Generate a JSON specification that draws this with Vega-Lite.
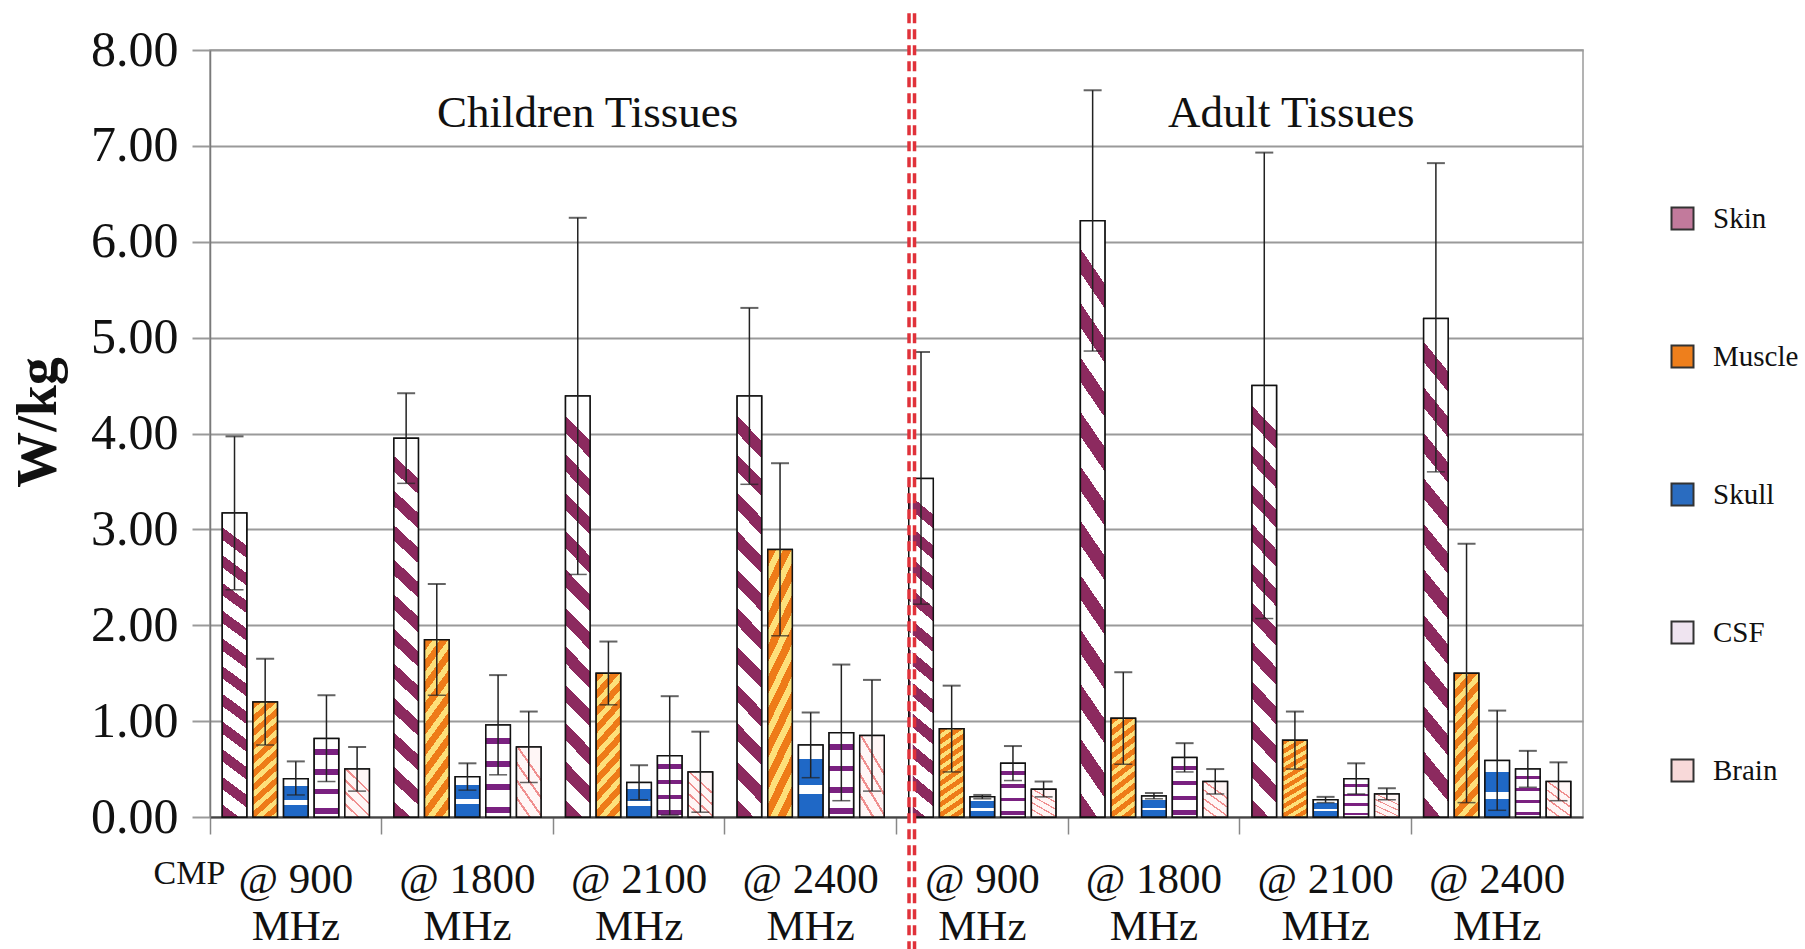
{
  "$schema": "https://vega.github.io/schema/vega-lite/v6.json",
  "width": 1373,
  "height": 767,
  "autosize": {"type": "none"},
  "padding": {"left": 210, "top": 50, "right": 222, "bottom": 132},
  "background": "white",
  "datasets": {
    "sar": [
      {"grp": "C900", "tissue": "Skin", "value": 3.17, "lo": 2.37, "hi": 3.97},
      {"grp": "C900", "tissue": "Muscle", "value": 1.2, "lo": 0.75, "hi": 1.65},
      {"grp": "C900", "tissue": "Skull", "value": 0.4, "lo": 0.23, "hi": 0.58},
      {"grp": "C900", "tissue": "CSF", "value": 0.82, "lo": 0.37, "hi": 1.27},
      {"grp": "C900", "tissue": "Brain", "value": 0.5, "lo": 0.27, "hi": 0.73},
      {"grp": "C1800", "tissue": "Skin", "value": 3.95, "lo": 3.48, "hi": 4.42},
      {"grp": "C1800", "tissue": "Muscle", "value": 1.85, "lo": 1.27, "hi": 2.43},
      {"grp": "C1800", "tissue": "Skull", "value": 0.42, "lo": 0.28, "hi": 0.56},
      {"grp": "C1800", "tissue": "CSF", "value": 0.96, "lo": 0.44, "hi": 1.48},
      {"grp": "C1800", "tissue": "Brain", "value": 0.73, "lo": 0.36, "hi": 1.1},
      {"grp": "C2100", "tissue": "Skin", "value": 4.39, "lo": 2.53, "hi": 6.25},
      {"grp": "C2100", "tissue": "Muscle", "value": 1.5, "lo": 1.17, "hi": 1.83},
      {"grp": "C2100", "tissue": "Skull", "value": 0.36, "lo": 0.18, "hi": 0.54},
      {"grp": "C2100", "tissue": "CSF", "value": 0.64, "lo": 0.02, "hi": 1.26},
      {"grp": "C2100", "tissue": "Brain", "value": 0.47, "lo": 0.05, "hi": 0.89},
      {"grp": "C2400", "tissue": "Skin", "value": 4.39, "lo": 3.47, "hi": 5.31},
      {"grp": "C2400", "tissue": "Muscle", "value": 2.79, "lo": 1.89, "hi": 3.69},
      {"grp": "C2400", "tissue": "Skull", "value": 0.75, "lo": 0.41, "hi": 1.09},
      {"grp": "C2400", "tissue": "CSF", "value": 0.88, "lo": 0.17, "hi": 1.59},
      {"grp": "C2400", "tissue": "Brain", "value": 0.85, "lo": 0.27, "hi": 1.43},
      {"grp": "A900", "tissue": "Skin", "value": 3.53, "lo": 2.22, "hi": 4.85},
      {"grp": "A900", "tissue": "Muscle", "value": 0.92, "lo": 0.47, "hi": 1.37},
      {"grp": "A900", "tissue": "Skull", "value": 0.21, "lo": 0.19, "hi": 0.23},
      {"grp": "A900", "tissue": "CSF", "value": 0.56, "lo": 0.38, "hi": 0.74},
      {"grp": "A900", "tissue": "Brain", "value": 0.29, "lo": 0.21, "hi": 0.37},
      {"grp": "A1800", "tissue": "Skin", "value": 6.22, "lo": 4.86, "hi": 7.58},
      {"grp": "A1800", "tissue": "Muscle", "value": 1.03, "lo": 0.55, "hi": 1.51},
      {"grp": "A1800", "tissue": "Skull", "value": 0.22, "lo": 0.19, "hi": 0.25},
      {"grp": "A1800", "tissue": "CSF", "value": 0.62, "lo": 0.47, "hi": 0.77},
      {"grp": "A1800", "tissue": "Brain", "value": 0.37, "lo": 0.24, "hi": 0.5},
      {"grp": "A2100", "tissue": "Skin", "value": 4.5, "lo": 2.07, "hi": 6.93},
      {"grp": "A2100", "tissue": "Muscle", "value": 0.8, "lo": 0.5, "hi": 1.1},
      {"grp": "A2100", "tissue": "Skull", "value": 0.18, "lo": 0.15, "hi": 0.21},
      {"grp": "A2100", "tissue": "CSF", "value": 0.4, "lo": 0.24, "hi": 0.56},
      {"grp": "A2100", "tissue": "Brain", "value": 0.24, "lo": 0.18, "hi": 0.3},
      {"grp": "A2400", "tissue": "Skin", "value": 5.2, "lo": 3.6, "hi": 6.82},
      {"grp": "A2400", "tissue": "Muscle", "value": 1.5, "lo": 0.15, "hi": 2.85},
      {"grp": "A2400", "tissue": "Skull", "value": 0.59, "lo": 0.07, "hi": 1.11},
      {"grp": "A2400", "tissue": "CSF", "value": 0.5, "lo": 0.31, "hi": 0.69},
      {"grp": "A2400", "tissue": "Brain", "value": 0.37, "lo": 0.17, "hi": 0.57}
    ]
  },
  "config": {
    "font": "Liberation Serif",
    "view": {"stroke": "#9a9a9a", "strokeWidth": 1.5}
  },
  "layer": [
    {
      "data": {"name": "sar"},
      "mark": {"type": "bar", "stroke": "#111111", "strokeWidth": 1.5},
      "encoding": {
        "x": {"field": "grp", "type": "nominal", "title": "CMP", "sort": null,
              "scale": {"domain": ["C900", "C1800", "C2100", "C2400", "A900", "A1800", "A2100", "A2400"], "paddingInner": 0, "paddingOuter": 0},
              "axis": {"labelExpr": "['@ ' + slice(datum.value, 1), 'MHz']", "grid": false, "bandPosition": 0,
                       "labelAngle": 0, "labelFont": "Liberation Serif", "labelFontSize": 43, "labelColor": "#111111", "labelLineHeight": 47,
                       "labelPadding": 24, "tickSize": 17, "tickColor": "#888888", "tickWidth": 1.5, "domainColor": "#444444", "domainWidth": 2,
                       "titleFont": "Liberation Serif", "titleFontSize": 34, "titleFontWeight": "normal", "titleColor": "#111111",
                       "titleX": -21, "titleY": 56, "titleAlign": "center", "titleBaseline": "middle"}},
        "xOffset": {"field": "tissue", "type": "nominal", "sort": null,
                    "scale": {"domain": ["Skin", "Muscle", "Skull", "CSF", "Brain"], "paddingInner": 0.2, "paddingOuter": 0.4}},
        "y": {"field": "value", "type": "quantitative", "title": "W/kg",
              "scale": {"domain": [0, 8], "nice": false},
              "axis": {"values": [0, 1, 2, 3, 4, 5, 6, 7, 8], "format": ".2f", "grid": true, "gridColor": "#9a9a9a", "gridWidth": 2,
                       "tickSize": 18, "tickColor": "#9a9a9a", "tickWidth": 2, "domainColor": "#7a7a7a", "domainWidth": 1.5,
                       "labelFont": "Liberation Serif", "labelFontSize": 50, "labelColor": "#111111", "labelPadding": 14,
                       "titleFont": "Liberation Serif", "titleFontSize": 56, "titleFontWeight": "bold", "titleColor": "#111111",
                       "titleX": -172, "titleY": 372, "titleAlign": "center", "titleBaseline": "middle"}},
        "fill": {"field": "tissue", "type": "nominal", "sort": null,
                 "scale": {"domain": ["Skin", "Muscle", "Skull", "CSF", "Brain"], "range": ["#c27a9c", "#ee7f1c", "#2a6cc0", "#efe4f0", "#f8d9d9"]},
                 "legend": {"title": null, "orient": "none", "legendX": 1458, "legendY": 154, "direction": "vertical",
                            "symbolType": "square", "symbolSize": 484, "symbolStrokeColor": "#333333", "symbolStrokeWidth": 2,
                            "labelFont": "Liberation Serif", "labelFontSize": 29, "labelColor": "#111111", "labelOffset": 16,
                            "rowPadding": 107}}
      }
    },
    {
      "data": {"name": "sar"},
      "transform": [{"filter": "datum.tissue === 'Skin'"}],
      "mark": {"type": "bar", "stroke": "#111111", "strokeWidth": 1.5,
               "fill": {"gradient": "linear", "x1": 0.06, "y1": 0, "x2": 0, "y2": 1, "stops": [
                 {"offset": 0, "color": "#ffffff"}, {"offset": 0.05, "color": "#ffffff"}, {"offset": 0.05, "color": "#8c2a5f"}, {"offset": 0.0909, "color": "#8c2a5f"},
                 {"offset": 0.0909, "color": "#ffffff"}, {"offset": 0.1409, "color": "#ffffff"}, {"offset": 0.1409, "color": "#8c2a5f"}, {"offset": 0.1818, "color": "#8c2a5f"},
                 {"offset": 0.1818, "color": "#ffffff"}, {"offset": 0.2318, "color": "#ffffff"}, {"offset": 0.2318, "color": "#8c2a5f"}, {"offset": 0.2727, "color": "#8c2a5f"},
                 {"offset": 0.2727, "color": "#ffffff"}, {"offset": 0.3227, "color": "#ffffff"}, {"offset": 0.3227, "color": "#8c2a5f"}, {"offset": 0.3636, "color": "#8c2a5f"},
                 {"offset": 0.3636, "color": "#ffffff"}, {"offset": 0.4136, "color": "#ffffff"}, {"offset": 0.4136, "color": "#8c2a5f"}, {"offset": 0.4545, "color": "#8c2a5f"},
                 {"offset": 0.4545, "color": "#ffffff"}, {"offset": 0.5045, "color": "#ffffff"}, {"offset": 0.5045, "color": "#8c2a5f"}, {"offset": 0.5455, "color": "#8c2a5f"},
                 {"offset": 0.5455, "color": "#ffffff"}, {"offset": 0.5955, "color": "#ffffff"}, {"offset": 0.5955, "color": "#8c2a5f"}, {"offset": 0.6364, "color": "#8c2a5f"},
                 {"offset": 0.6364, "color": "#ffffff"}, {"offset": 0.6864, "color": "#ffffff"}, {"offset": 0.6864, "color": "#8c2a5f"}, {"offset": 0.7273, "color": "#8c2a5f"},
                 {"offset": 0.7273, "color": "#ffffff"}, {"offset": 0.7773, "color": "#ffffff"}, {"offset": 0.7773, "color": "#8c2a5f"}, {"offset": 0.8182, "color": "#8c2a5f"},
                 {"offset": 0.8182, "color": "#ffffff"}, {"offset": 0.8682, "color": "#ffffff"}, {"offset": 0.8682, "color": "#8c2a5f"}, {"offset": 0.9091, "color": "#8c2a5f"},
                 {"offset": 0.9091, "color": "#ffffff"}, {"offset": 0.9591, "color": "#ffffff"}, {"offset": 0.9591, "color": "#8c2a5f"}, {"offset": 1, "color": "#8c2a5f"}]}},
      "encoding": {
        "x": {"field": "grp", "type": "nominal", "sort": null, "scale": {"domain": ["C900", "C1800", "C2100", "C2400", "A900", "A1800", "A2100", "A2400"], "paddingInner": 0, "paddingOuter": 0}},
        "xOffset": {"field": "tissue", "type": "nominal", "sort": null, "scale": {"domain": ["Skin", "Muscle", "Skull", "CSF", "Brain"], "paddingInner": 0.2, "paddingOuter": 0.4}},
        "y": {"field": "value", "type": "quantitative", "scale": {"domain": [0, 8], "nice": false}}
      }
    },
    {
      "data": {"name": "sar"},
      "transform": [{"filter": "datum.tissue === 'Muscle'"}],
      "mark": {"type": "bar", "stroke": "#111111", "strokeWidth": 1.5,
               "fill": {"gradient": "linear", "x1": 0, "y1": 0, "x2": 0.2185, "y2": 1.15, "stops": [
                 {"offset": 0, "color": "#ee7b18"}, {"offset": 0.055, "color": "#ee7b18"}, {"offset": 0.055, "color": "#fde07a"}, {"offset": 0.1, "color": "#fde07a"},
                 {"offset": 0.1, "color": "#ee7b18"}, {"offset": 0.155, "color": "#ee7b18"}, {"offset": 0.155, "color": "#fde07a"}, {"offset": 0.2, "color": "#fde07a"},
                 {"offset": 0.2, "color": "#ee7b18"}, {"offset": 0.255, "color": "#ee7b18"}, {"offset": 0.255, "color": "#fde07a"}, {"offset": 0.3, "color": "#fde07a"},
                 {"offset": 0.3, "color": "#ee7b18"}, {"offset": 0.355, "color": "#ee7b18"}, {"offset": 0.355, "color": "#fde07a"}, {"offset": 0.4, "color": "#fde07a"},
                 {"offset": 0.4, "color": "#ee7b18"}, {"offset": 0.455, "color": "#ee7b18"}, {"offset": 0.455, "color": "#fde07a"}, {"offset": 0.5, "color": "#fde07a"},
                 {"offset": 0.5, "color": "#ee7b18"}, {"offset": 0.555, "color": "#ee7b18"}, {"offset": 0.555, "color": "#fde07a"}, {"offset": 0.6, "color": "#fde07a"},
                 {"offset": 0.6, "color": "#ee7b18"}, {"offset": 0.655, "color": "#ee7b18"}, {"offset": 0.655, "color": "#fde07a"}, {"offset": 0.7, "color": "#fde07a"},
                 {"offset": 0.7, "color": "#ee7b18"}, {"offset": 0.755, "color": "#ee7b18"}, {"offset": 0.755, "color": "#fde07a"}, {"offset": 0.8, "color": "#fde07a"},
                 {"offset": 0.8, "color": "#ee7b18"}, {"offset": 0.855, "color": "#ee7b18"}, {"offset": 0.855, "color": "#fde07a"}, {"offset": 0.9, "color": "#fde07a"},
                 {"offset": 0.9, "color": "#ee7b18"}, {"offset": 0.955, "color": "#ee7b18"}, {"offset": 0.955, "color": "#fde07a"}, {"offset": 1, "color": "#fde07a"}]}},
      "encoding": {
        "x": {"field": "grp", "type": "nominal", "sort": null, "scale": {"domain": ["C900", "C1800", "C2100", "C2400", "A900", "A1800", "A2100", "A2400"], "paddingInner": 0, "paddingOuter": 0}},
        "xOffset": {"field": "tissue", "type": "nominal", "sort": null, "scale": {"domain": ["Skin", "Muscle", "Skull", "CSF", "Brain"], "paddingInner": 0.2, "paddingOuter": 0.4}},
        "y": {"field": "value", "type": "quantitative", "scale": {"domain": [0, 8], "nice": false}}
      }
    },
    {
      "data": {"name": "sar"},
      "transform": [{"filter": "datum.tissue === 'Skull'"}],
      "mark": {"type": "bar", "stroke": "#111111", "strokeWidth": 1.5,
               "fill": {"gradient": "linear", "x1": 0, "y1": 0, "x2": 0, "y2": 1, "stops": [
                 {"offset": 0, "color": "#ffffff"}, {"offset": 0.2, "color": "#ffffff"}, {"offset": 0.2, "color": "#1f68c6"}, {"offset": 0.55, "color": "#1f68c6"},
                 {"offset": 0.55, "color": "#ffffff"}, {"offset": 0.68, "color": "#ffffff"}, {"offset": 0.68, "color": "#1f68c6"}, {"offset": 1, "color": "#1f68c6"}]}},
      "encoding": {
        "x": {"field": "grp", "type": "nominal", "sort": null, "scale": {"domain": ["C900", "C1800", "C2100", "C2400", "A900", "A1800", "A2100", "A2400"], "paddingInner": 0, "paddingOuter": 0}},
        "xOffset": {"field": "tissue", "type": "nominal", "sort": null, "scale": {"domain": ["Skin", "Muscle", "Skull", "CSF", "Brain"], "paddingInner": 0.2, "paddingOuter": 0.4}},
        "y": {"field": "value", "type": "quantitative", "scale": {"domain": [0, 8], "nice": false}}
      }
    },
    {
      "data": {"name": "sar"},
      "transform": [{"filter": "datum.tissue === 'CSF'"}],
      "mark": {"type": "bar", "stroke": "#111111", "strokeWidth": 1.5,
               "fill": {"gradient": "linear", "x1": 0, "y1": 0, "x2": 0, "y2": 1, "stops": [
                 {"offset": 0, "color": "#ffffff"}, {"offset": 0.14, "color": "#ffffff"}, {"offset": 0.14, "color": "#7a2180"}, {"offset": 0.21, "color": "#7a2180"}, {"offset": 0.21, "color": "#ffffff"}, {"offset": 0.25, "color": "#ffffff"},
                 {"offset": 0.25, "color": "#ffffff"}, {"offset": 0.39, "color": "#ffffff"}, {"offset": 0.39, "color": "#7a2180"}, {"offset": 0.46, "color": "#7a2180"}, {"offset": 0.46, "color": "#ffffff"}, {"offset": 0.5, "color": "#ffffff"},
                 {"offset": 0.5, "color": "#ffffff"}, {"offset": 0.64, "color": "#ffffff"}, {"offset": 0.64, "color": "#7a2180"}, {"offset": 0.71, "color": "#7a2180"}, {"offset": 0.71, "color": "#ffffff"}, {"offset": 0.75, "color": "#ffffff"},
                 {"offset": 0.75, "color": "#ffffff"}, {"offset": 0.89, "color": "#ffffff"}, {"offset": 0.89, "color": "#7a2180"}, {"offset": 0.96, "color": "#7a2180"}, {"offset": 0.96, "color": "#ffffff"}, {"offset": 1, "color": "#ffffff"}]}},
      "encoding": {
        "x": {"field": "grp", "type": "nominal", "sort": null, "scale": {"domain": ["C900", "C1800", "C2100", "C2400", "A900", "A1800", "A2100", "A2400"], "paddingInner": 0, "paddingOuter": 0}},
        "xOffset": {"field": "tissue", "type": "nominal", "sort": null, "scale": {"domain": ["Skin", "Muscle", "Skull", "CSF", "Brain"], "paddingInner": 0.2, "paddingOuter": 0.4}},
        "y": {"field": "value", "type": "quantitative", "scale": {"domain": [0, 8], "nice": false}}
      }
    },
    {
      "data": {"name": "sar"},
      "transform": [{"filter": "datum.tissue === 'Brain'"}],
      "mark": {"type": "bar", "stroke": "#111111", "strokeWidth": 1.5,
               "fill": {"gradient": "linear", "x1": 0.5, "y1": 0, "x2": 0, "y2": 1, "stops": [
                 {"offset": 0, "color": "#fff6f6"}, {"offset": 0.16, "color": "#fff6f6"}, {"offset": 0.16, "color": "#f08f8f"}, {"offset": 0.2, "color": "#f08f8f"},
                 {"offset": 0.2, "color": "#fff6f6"}, {"offset": 0.36, "color": "#fff6f6"}, {"offset": 0.36, "color": "#f08f8f"}, {"offset": 0.4, "color": "#f08f8f"},
                 {"offset": 0.4, "color": "#fff6f6"}, {"offset": 0.56, "color": "#fff6f6"}, {"offset": 0.56, "color": "#f08f8f"}, {"offset": 0.6, "color": "#f08f8f"},
                 {"offset": 0.6, "color": "#fff6f6"}, {"offset": 0.76, "color": "#fff6f6"}, {"offset": 0.76, "color": "#f08f8f"}, {"offset": 0.8, "color": "#f08f8f"},
                 {"offset": 0.8, "color": "#fff6f6"}, {"offset": 1, "color": "#fff6f6"}]}},
      "encoding": {
        "x": {"field": "grp", "type": "nominal", "sort": null, "scale": {"domain": ["C900", "C1800", "C2100", "C2400", "A900", "A1800", "A2100", "A2400"], "paddingInner": 0, "paddingOuter": 0}},
        "xOffset": {"field": "tissue", "type": "nominal", "sort": null, "scale": {"domain": ["Skin", "Muscle", "Skull", "CSF", "Brain"], "paddingInner": 0.2, "paddingOuter": 0.4}},
        "y": {"field": "value", "type": "quantitative", "scale": {"domain": [0, 8], "nice": false}}
      }
    },
    {
      "data": {"name": "sar"},
      "mark": {"type": "rule", "color": "#222222", "strokeWidth": 1.5},
      "encoding": {
        "x": {"field": "grp", "type": "nominal", "sort": null, "scale": {"domain": ["C900", "C1800", "C2100", "C2400", "A900", "A1800", "A2100", "A2400"], "paddingInner": 0, "paddingOuter": 0}},
        "xOffset": {"field": "tissue", "type": "nominal", "sort": null, "scale": {"domain": ["Skin", "Muscle", "Skull", "CSF", "Brain"], "paddingInner": 0.2, "paddingOuter": 0.4}},
        "y": {"field": "lo", "type": "quantitative", "scale": {"domain": [0, 8], "nice": false}},
        "y2": {"field": "hi"}
      }
    },
    {
      "data": {"name": "sar"},
      "mark": {"type": "tick", "color": "#222222", "size": 18, "thickness": 2},
      "encoding": {
        "x": {"field": "grp", "type": "nominal", "sort": null, "scale": {"domain": ["C900", "C1800", "C2100", "C2400", "A900", "A1800", "A2100", "A2400"], "paddingInner": 0, "paddingOuter": 0}},
        "xOffset": {"field": "tissue", "type": "nominal", "sort": null, "scale": {"domain": ["Skin", "Muscle", "Skull", "CSF", "Brain"], "paddingInner": 0.2, "paddingOuter": 0.4}},
        "y": {"field": "hi", "type": "quantitative", "scale": {"domain": [0, 8], "nice": false}}
      }
    },
    {
      "data": {"name": "sar"},
      "mark": {"type": "tick", "color": "#222222", "size": 18, "thickness": 1.5},
      "encoding": {
        "x": {"field": "grp", "type": "nominal", "sort": null, "scale": {"domain": ["C900", "C1800", "C2100", "C2400", "A900", "A1800", "A2100", "A2400"], "paddingInner": 0, "paddingOuter": 0}},
        "xOffset": {"field": "tissue", "type": "nominal", "sort": null, "scale": {"domain": ["Skin", "Muscle", "Skull", "CSF", "Brain"], "paddingInner": 0.2, "paddingOuter": 0.4}},
        "y": {"field": "lo", "type": "quantitative", "scale": {"domain": [0, 8], "nice": false}}
      }
    },
    {
      "data": {"values": [{"grp": "C2100", "lbl": "Children Tissues", "v": 7.2}]},
      "mark": {"type": "text", "font": "Liberation Serif", "fontSize": 45, "color": "#111111", "align": "center", "baseline": "alphabetic"},
      "encoding": {
        "x": {"field": "grp", "type": "nominal", "sort": null, "bandPosition": 0.2, "scale": {"domain": ["C900", "C1800", "C2100", "C2400", "A900", "A1800", "A2100", "A2400"], "paddingInner": 0, "paddingOuter": 0}},
        "y": {"field": "v", "type": "quantitative", "scale": {"domain": [0, 8], "nice": false}},
        "text": {"field": "lbl"}
      }
    },
    {
      "data": {"values": [{"grp": "A2100", "lbl": "Adult Tissues", "v": 7.2}]},
      "mark": {"type": "text", "font": "Liberation Serif", "fontSize": 45, "color": "#111111", "align": "center", "baseline": "alphabetic"},
      "encoding": {
        "x": {"field": "grp", "type": "nominal", "sort": null, "bandPosition": 0.3, "scale": {"domain": ["C900", "C1800", "C2100", "C2400", "A900", "A1800", "A2100", "A2400"], "paddingInner": 0, "paddingOuter": 0}},
        "y": {"field": "v", "type": "quantitative", "scale": {"domain": [0, 8], "nice": false}},
        "text": {"field": "lbl"}
      }
    },
    {
      "data": {"values": [{"grp": "A900", "y0": -1.4, "y1": 8.39}]},
      "mark": {"type": "rule", "color": "#e0323a", "strokeWidth": 9, "strokeDash": [10, 6]},
      "encoding": {
        "x": {"field": "grp", "type": "nominal", "sort": null, "bandPosition": 0.089, "scale": {"domain": ["C900", "C1800", "C2100", "C2400", "A900", "A1800", "A2100", "A2400"], "paddingInner": 0, "paddingOuter": 0}},
        "y": {"field": "y0", "type": "quantitative", "scale": {"domain": [0, 8], "nice": false}},
        "y2": {"field": "y1"}
      }
    },
    {
      "data": {"values": [{"grp": "A900", "y0": -1.4, "y1": 8.39}]},
      "mark": {"type": "rule", "color": "#ffffff", "strokeWidth": 2},
      "encoding": {
        "x": {"field": "grp", "type": "nominal", "sort": null, "bandPosition": 0.089, "scale": {"domain": ["C900", "C1800", "C2100", "C2400", "A900", "A1800", "A2100", "A2400"], "paddingInner": 0, "paddingOuter": 0}},
        "y": {"field": "y0", "type": "quantitative", "scale": {"domain": [0, 8], "nice": false}},
        "y2": {"field": "y1"}
      }
    }
  ]
}
